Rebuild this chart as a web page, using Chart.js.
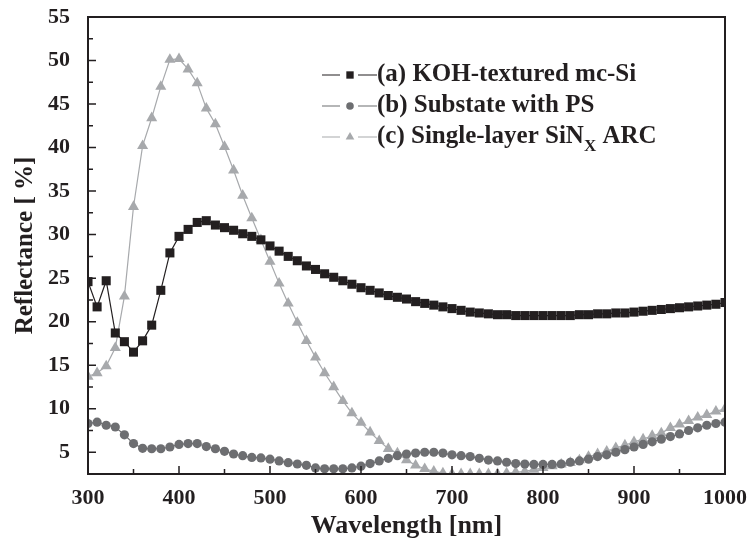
<!DOCTYPE html>
<html>
<head>
<meta charset="utf-8">
<script src="https://cdn.jsdelivr.net/npm/chart.js@4.4.0/dist/chart.umd.min.js"></script>
<style>
  html, body { margin: 0; padding: 0; background: #fff; }
</style>
</head>
<body>
<canvas id="myChart" width="748" height="544"></canvas>
<script>
// wavelength [nm]
const wavelengths = [300, 310, 320, 330, 340, 350, 360, 370, 380, 390,
  400, 410, 420, 430, 440, 450, 460, 470, 480, 490,
  500, 510, 520, 530, 540, 550, 560, 570, 580, 590,
  600, 610, 620, 630, 640, 650, 660, 670, 680, 690,
  700, 710, 720, 730, 740, 750, 760, 770, 780, 790,
  800, 810, 820, 830, 840, 850, 860, 870, 880, 890,
  900, 910, 920, 930, 940, 950, 960, 970, 980, 990, 1000];

// reflectance [%]
const kohTextured = [24.6, 21.7, 24.7, 18.7, 17.7, 16.5, 17.8, 19.6, 23.6, 27.9,
  29.8, 30.6, 31.4, 31.6, 31.1, 30.8, 30.5, 30.1, 29.8, 29.4,
  28.7, 28.1, 27.5, 27.0, 26.4, 26.0, 25.5, 25.1, 24.7, 24.3,
  23.9, 23.6, 23.3, 23.0, 22.8, 22.6, 22.3, 22.1, 21.9, 21.7,
  21.5, 21.3, 21.1, 21.0, 20.9, 20.8, 20.8, 20.7, 20.7, 20.7,
  20.7, 20.7, 20.7, 20.7, 20.8, 20.8, 20.9, 20.9, 21.0, 21.0,
  21.1, 21.2, 21.3, 21.4, 21.5, 21.6, 21.7, 21.8, 21.9, 22.0, 22.2];

const substratePS = [8.3, 8.45, 8.1, 7.9, 7.0, 6.0, 5.45, 5.4, 5.4, 5.6,
  5.9, 6.0, 6.0, 5.65, 5.4, 5.1, 4.8, 4.6, 4.4, 4.35,
  4.2, 4.0, 3.8, 3.65, 3.5, 3.2, 3.1, 3.1, 3.1, 3.2,
  3.4, 3.7, 4.0, 4.3, 4.6, 4.8, 4.9, 5.0, 5.0, 4.9,
  4.7, 4.6, 4.5, 4.3, 4.1, 4.0, 3.85, 3.7, 3.65, 3.6,
  3.6, 3.6, 3.65, 3.85, 4.0, 4.2, 4.5, 4.7, 5.0, 5.3,
  5.6, 5.9, 6.2, 6.5, 6.8, 7.1, 7.5, 7.8, 8.1, 8.3, 8.45];

const singleLayerSiN = [13.7, 14.1, 14.9, 17.0, 22.9, 33.2, 40.2, 43.4, 47.0, 50.1,
  50.2, 49.0, 47.4, 44.5, 42.7, 40.1, 37.4, 34.5, 31.9, 29.4,
  26.9, 24.4, 22.1, 19.9, 17.8, 15.9, 14.1, 12.5, 10.9, 9.5,
  8.4, 7.3, 6.3, 5.4, 4.9, 4.1, 3.5, 3.1, 2.8, 2.6,
  2.5, 2.5, 2.5, 2.5, 2.5, 2.5, 2.6, 2.7, 2.8, 3.0,
  3.2, 3.4, 3.6, 3.8, 4.1, 4.5, 4.8, 5.1, 5.5, 5.8,
  6.2, 6.5, 6.9, 7.2, 7.8, 8.2, 8.6, 9.0, 9.3, 9.7, 10.0];

const xTicks = [300, 400, 500, 600, 700, 800, 900, 1000];
const yTicks = [5, 10, 15, 20, 25, 30, 35, 40, 45, 50, 55];

const ink = '#231f20';
const serif = '"Liberation Serif", "Times New Roman", serif';

const pairs = (ys) => wavelengths.map((x, i) => ({ x: x, y: ys[i] }));

// legend: line + marker + label, label (c) has subscript X
const legendRows = [
  { parts: [['(a) KOH-textured mc-Si', false]] },
  { parts: [['(b) Substate with PS', false]] },
  { parts: [['(c) Single-layer SiN', false], ['X', true], [' ARC', false]] }
];

const legendPlugin = {
  id: 'legendPlugin',
  afterDraw(chart) {
    const ctx = chart.ctx;
    const x0 = 322, y0 = 75, step = 31;
    chart.data.datasets.forEach((ds, i) => {
      const y = y0 + i * step;
      ctx.save();
      ctx.strokeStyle = ds.borderColor;
      ctx.lineWidth = 1.2;
      ctx.beginPath();
      ctx.moveTo(x0, y); ctx.lineTo(x0 + 18, y);
      ctx.moveTo(x0 + 36, y); ctx.lineTo(x0 + 55, y);
      ctx.stroke();
      ctx.fillStyle = ds.pointBackgroundColor;
      Chart.helpers.drawPoint(ctx, { pointStyle: ds.pointStyle, radius: ds.legendRadius, rotation: 0, borderWidth: 0 }, x0 + 28, y);
      ctx.fillStyle = ink;
      ctx.textBaseline = 'middle';
      let tx = x0 + 55;
      legendRows[i].parts.forEach(([txt, sub]) => {
        ctx.font = sub ? 'bold 17px ' + serif : 'bold 25px ' + serif;
        ctx.fillText(txt, tx, sub ? y + 10 : y);
        tx += ctx.measureText(txt).width;
      });
      ctx.restore();
    });
  }
};

// frame and inward ticks
const framePlugin = {
  id: 'framePlugin',
  afterDatasetsDraw(chart) {
    const { ctx, chartArea: a, scales } = chart;
    ctx.save();
    ctx.strokeStyle = ink;
    ctx.lineWidth = 2;
    ctx.strokeRect(a.left, a.top, a.right - a.left, a.bottom - a.top);
    ctx.lineWidth = 1.5;
    ctx.beginPath();
    xTicks.forEach((v, i) => {
      const px = scales.x.getPixelForValue(v);
      ctx.moveTo(px, a.bottom); ctx.lineTo(px, a.bottom - 8);
      if (i < xTicks.length - 1) {
        const pm = scales.x.getPixelForValue((v + xTicks[i + 1]) / 2);
        ctx.moveTo(pm, a.bottom); ctx.lineTo(pm, a.bottom - 5);
      }
    });
    yTicks.forEach((v, i) => {
      const py = scales.y.getPixelForValue(v);
      ctx.moveTo(a.left, py); ctx.lineTo(a.left + 8, py);
      if (i < yTicks.length - 1) {
        const pm = scales.y.getPixelForValue((v + yTicks[i + 1]) / 2);
        ctx.moveTo(a.left, pm); ctx.lineTo(a.left + 5, pm);
      }
    });
    ctx.stroke();
    ctx.restore();
  }
};

new Chart(document.getElementById('myChart').getContext('2d'), {
  type: 'line',
  data: {
    datasets: [
      {
        label: legendRows[0].parts[0][0],
        data: pairs(kohTextured),
        borderColor: '#231f20', borderWidth: 1.2,
        pointStyle: 'rect', pointRadius: 6.4, legendRadius: 5.2,
        pointBackgroundColor: '#231f20', pointBorderWidth: 0
      },
      {
        label: legendRows[1].parts[0][0],
        data: pairs(substratePS),
        borderColor: '#6d6e71', borderWidth: 1.2,
        pointStyle: 'circle', pointRadius: 4.6, legendRadius: 3.8,
        pointBackgroundColor: '#6d6e71', pointBorderWidth: 0
      },
      {
        label: '(c) Single-layer SiNX ARC',
        data: pairs(singleLayerSiN),
        borderColor: '#a7a9ac', borderWidth: 1.2,
        pointStyle: 'triangle', pointRadius: 6.4, legendRadius: 5,
        pointBackgroundColor: '#a7a9ac', pointBorderWidth: 0
      }
    ]
  },
  options: {
    responsive: false,
    animation: false,
    devicePixelRatio: 1,
    layout: { padding: { top: 17, right: 23, left: 0, bottom: 0 } },
    plugins: { legend: { display: false }, tooltip: { enabled: false } },
    elements: { line: { tension: 0 } },
    scales: {
      x: {
        type: 'linear', min: 300, max: 1000,
        afterBuildTicks: s => { s.ticks = xTicks.map(v => ({ value: v })); },
        afterFit: s => { s.height = 70; s.paddingLeft = 0; s.paddingRight = 0; },
        grid: { display: false }, border: { display: false },
        ticks: { color: ink, padding: 3, maxRotation: 0, callback: v => String(v),
                 font: { family: serif, size: 22, weight: 'bold' } },
        title: { display: true, text: 'Wavelength [nm]', color: ink, padding: { top: 2, bottom: 2 },
                 font: { family: serif, size: 26, weight: 'bold' } }
      },
      y: {
        min: 2.5, max: 55,
        afterBuildTicks: s => { s.ticks = yTicks.map(v => ({ value: v })); },
        afterFit: s => { s.width = 88; s.paddingTop = 0; s.paddingBottom = 0; },
        grid: { display: false }, border: { display: false },
        ticks: { color: ink, padding: 10, callback: v => String(v),
                 font: { family: serif, size: 22, weight: 'bold' } },
        title: { display: true, text: 'Reflectance [ %]', color: ink, padding: { top: 11, bottom: 11 },
                 font: { family: serif, size: 25, weight: 'bold' } }
      }
    }
  },
  plugins: [framePlugin, legendPlugin]
});
</script>
</body>
</html>
